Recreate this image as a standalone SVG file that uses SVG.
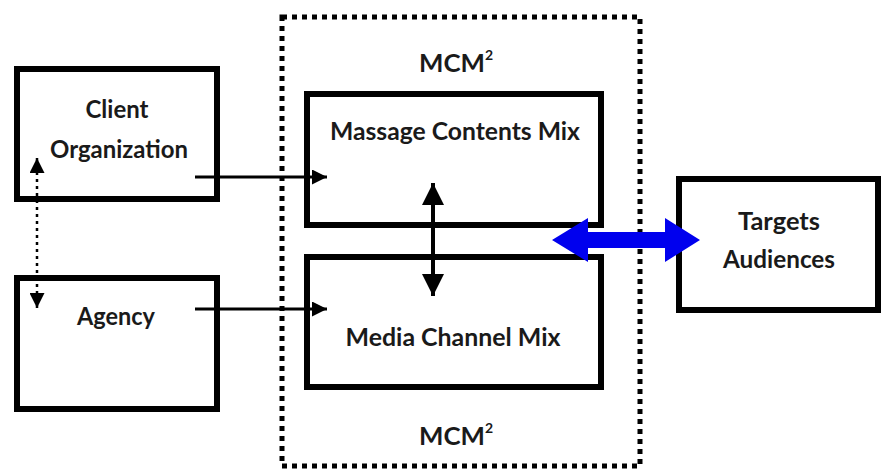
<svg xmlns="http://www.w3.org/2000/svg" width="882" height="473" viewBox="0 0 882 473">
<defs>
<style>
.box{fill:#fff;stroke:#000;stroke-width:6}
.lbl{font-family:Lato,"Liberation Sans",sans-serif;font-weight:bold;font-size:24px;fill:#1a1a1a;text-anchor:middle}
.conn{stroke:#000;stroke-width:3;fill:none}
</style>
<marker id="ah" viewBox="0 0 10 10" refX="10" refY="5" markerWidth="5.5" markerHeight="5" markerUnits="strokeWidth" orient="auto">
<path d="M0,0 L10,5 L0,10 z" fill="#000"/>
</marker>
<marker id="ahb" viewBox="0 0 10 10" refX="10" refY="5" markerWidth="5.5" markerHeight="6" markerUnits="strokeWidth" orient="auto-start-reverse">
<path d="M0,0 L10,5 L0,10 z" fill="#000"/>
</marker>
<marker id="ahd" viewBox="0 0 10 10" refX="10" refY="5" markerWidth="7" markerHeight="6" markerUnits="strokeWidth" orient="auto-start-reverse">
<path d="M0,0 L10,5 L0,10 z" fill="#000"/>
</marker>
</defs>
<rect width="882" height="473" fill="#fff"/>
<g id="mcm2-container">
<rect x="282" y="17" width="358" height="449" fill="none" stroke="#000" stroke-width="5" stroke-dasharray="5 5"/>
<text class="lbl" x="456" y="72" font-size="26"><tspan textLength="66" lengthAdjust="spacingAndGlyphs">MCM</tspan><tspan dy="-12" font-size="14">2</tspan></text>
<text class="lbl" x="456" y="445" font-size="26"><tspan textLength="66" lengthAdjust="spacingAndGlyphs">MCM</tspan><tspan dy="-12" font-size="14">2</tspan></text>
</g>
<g id="client-organization">
<rect class="box" x="17" y="69" width="200" height="130"/>
<text class="lbl" x="117" y="118" textLength="63" lengthAdjust="spacingAndGlyphs">Client</text>
<text class="lbl" x="119" y="158" textLength="138" lengthAdjust="spacingAndGlyphs">Organization</text>
</g>
<g id="agency">
<rect class="box" x="17" y="278" width="200" height="131"/>
<text class="lbl" x="116" y="325" textLength="78" lengthAdjust="spacingAndGlyphs">Agency</text>
</g>
<g id="massage-contents-mix">
<rect class="box" x="307" y="94" width="294" height="131"/>
<text class="lbl" x="455" y="140" textLength="250" lengthAdjust="spacingAndGlyphs">Massage Contents Mix</text>
</g>
<g id="media-channel-mix">
<rect class="box" x="307" y="257" width="294" height="130"/>
<text class="lbl" x="453" y="346" textLength="215" lengthAdjust="spacingAndGlyphs">Media Channel Mix</text>
</g>
<g id="targets-audiences">
<rect class="box" x="679" y="179" width="199" height="131"/>
<text class="lbl" x="779" y="230" textLength="82" lengthAdjust="spacingAndGlyphs">Targets</text>
<text class="lbl" x="779" y="268" textLength="112" lengthAdjust="spacingAndGlyphs">Audiences</text>
</g>
<g id="connectors">
<line class="conn" x1="195" y1="177" x2="327" y2="177" marker-end="url(#ah)"/>
<line class="conn" x1="195" y1="309" x2="327" y2="309" marker-end="url(#ah)"/>
<line x1="433" y1="183" x2="433" y2="296" stroke="#000" stroke-width="4" marker-start="url(#ahb)" marker-end="url(#ahb)"/>
<line x1="37" y1="158" x2="37" y2="308" stroke="#000" stroke-width="2.5" stroke-dasharray="3 4" marker-start="url(#ahd)" marker-end="url(#ahd)"/>
<path d="M552,240 L588,218 L588,232 L665,232 L665,218 L700,240 L665,262 L665,248 L588,248 L588,262 Z" fill="#0000ee"/>
</g>
</svg>
